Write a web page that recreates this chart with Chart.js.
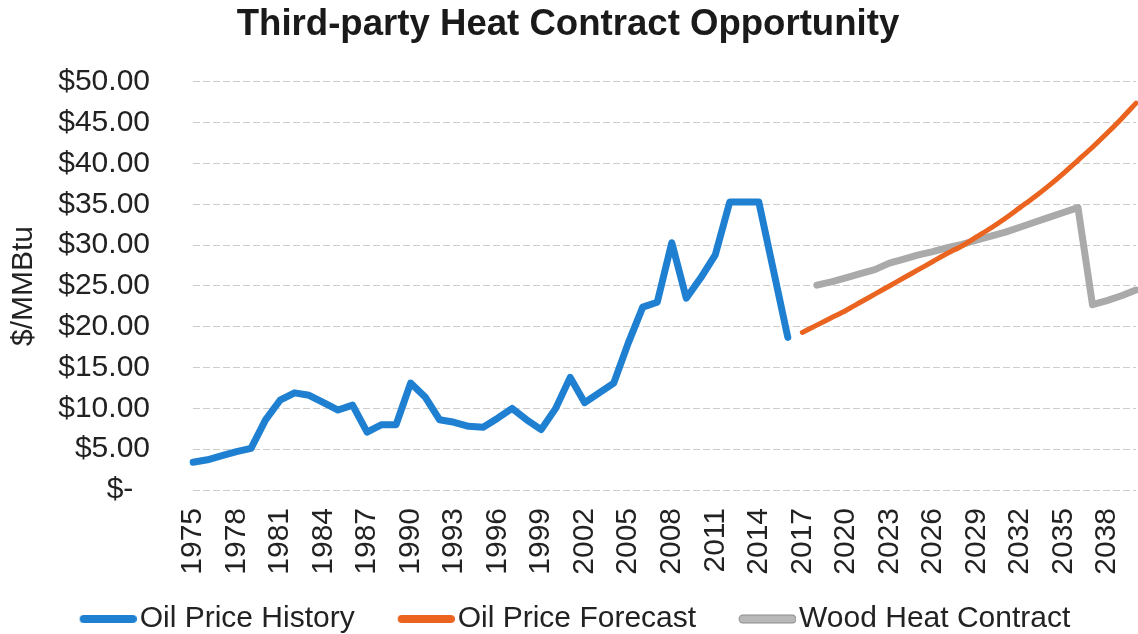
<!DOCTYPE html>
<html>
<head>
<meta charset="utf-8">
<script src="https://cdn.jsdelivr.net/npm/chart.js@4/dist/chart.umd.min.js"></script>
<style>
  html, body { margin: 0; padding: 0; background: #ffffff; }
  #wrap { width: 1138px; height: 634px; }
</style>
</head>
<body>
<div id="wrap"><canvas id="c" width="1138" height="634"></canvas></div>
<script>
const years = [
  '1975','1976','1977','1978','1979','1980','1981','1982','1983','1984',
  '1985','1986','1987','1988','1989','1990','1991','1992','1993','1994',
  '1995','1996','1997','1998','1999','2000','2001','2002','2003','2004',
  '2005','2006','2007','2008','2009','2010','2011','2012','2013','2014',
  '2015','2016','2017','2018','2019','2020','2021','2022','2023','2024',
  '2025','2026','2027','2028','2029','2030','2031','2032','2033','2034',
  '2035','2036','2037','2038','2039','2040'
];
const shownYearLabels = ['1975','1978','1981','1984','1987','1990','1993','1996','1999','2002',
  '2005','2008','2011','2014','2017','2020','2023','2026','2029','2032','2035','2038'];

// Oil Price History, 1975-2016 ($/MMBtu)
const oilHistory = [
  3.4, 3.7, 4.2, 4.7, 5.1, 8.6, 11.0, 11.9, 11.6, 10.7,
  9.8, 10.4, 7.1, 8.0, 8.0, 13.1, 11.4, 8.6, 8.3, 7.8,
  7.7, 8.8, 10.0, 8.6, 7.4, 10.0, 13.8, 10.7, 11.9, 13.1,
  18.0, 22.4, 23.0, 30.3, 23.5, 26.0, 28.8, 35.3, 35.3, 35.3,
  27.0, 18.7
];
// Oil Price Forecast, 2017-2040
const oilForecast = [
  19.3, 20.2, 21.1, 22.0, 23.0, 24.0, 25.0, 26.0, 27.0, 28.0,
  29.0, 29.9, 31.0, 32.1, 33.3, 34.6, 35.9, 37.3, 38.8, 40.4,
  42.0, 43.7, 45.5, 47.4
];
// Wood Heat Contract, 2018-2040
const woodContract = [
  25.1, 25.5, 26.0, 26.5, 27.0, 27.8, 28.3, 28.8, 29.2, 29.7,
  30.1, 30.6, 31.1, 31.6, 32.2, 32.8, 33.4, 34.0, 34.6, 22.7,
  23.2, 23.8, 24.5
];

function placeSeries(startYear, values) {
  const start = years.indexOf(startYear);
  return years.map((y, i) => (i >= start && i - start < values.length) ? values[i - start] : null);
}

// legend marker: a thick rounded line drawn in the right part of a small canvas
function legendMarker(color, edge) {
  const c = document.createElement('canvas');
  c.width = 83; c.height = 12;
  const g = c.getContext('2d');
  g.lineCap = 'round';
  if (edge) {
    g.strokeStyle = edge; g.lineWidth = 9;
    g.beginPath(); g.moveTo(30, 6); g.lineTo(79, 6); g.stroke();
  }
  g.strokeStyle = color; g.lineWidth = edge ? 7 : 8;
  g.beginPath(); g.moveTo(30, 6); g.lineTo(79, 6); g.stroke();
  return c;
}

const textColor = '#222222';
const FONT = 'Liberation Sans, Arial, sans-serif';
const colors = ['#1f80d2', '#ea6420', '#aaaaaa'];
const markers = [legendMarker(colors[0]), legendMarker(colors[1]), legendMarker('#b8b8b8', '#8c8c8c')];

new Chart(document.getElementById('c'), {
  type: 'line',
  data: {
    labels: years,
    datasets: [
      {
        label: 'Oil Price History',
        data: placeSeries('1975', oilHistory),
        borderColor: colors[0],
        backgroundColor: colors[0],
        borderWidth: 7,
        pointRadius: 0,
        tension: 0,
        borderCapStyle: 'round',
        borderJoinStyle: 'round',
        spanGaps: false
      },
      {
        label: 'Oil Price Forecast',
        data: placeSeries('2017', oilForecast),
        borderColor: colors[1],
        backgroundColor: colors[1],
        borderWidth: 5,
        pointRadius: 0,
        tension: 0.3,
        borderCapStyle: 'round',
        borderJoinStyle: 'round',
        spanGaps: false
      },
      {
        label: 'Wood Heat Contract',
        data: placeSeries('2018', woodContract),
        borderColor: colors[2],
        backgroundColor: colors[2],
        borderWidth: 7,
        pointRadius: 0,
        tension: 0,
        borderCapStyle: 'round',
        borderJoinStyle: 'round',
        spanGaps: false
      }
    ]
  },
  options: {
    responsive: false,
    animation: false,
    layout: { padding: { top: 0, left: 0, right: 2, bottom: -10 } },
    plugins: {
      title: {
        display: true,
        text: 'Third-party Heat Contract Opportunity',
        color: '#1a1a1a',
        font: { family: FONT, size: 36.6, weight: 'bold' },
        padding: { top: 3, bottom: 35 }
      },
      legend: {
        position: 'bottom',
        labels: {
          color: textColor,
          font: { family: FONT, size: 30 },
          usePointStyle: true,
          pointStyleWidth: 59,
          boxHeight: 8,
          padding: 29,
          generateLabels: (chart) =>
            Chart.defaults.plugins.legend.labels.generateLabels(chart).map(l => ({
              ...l, pointStyle: markers[l.datasetIndex], lineWidth: 0
            }))
        }
      },
      tooltip: { enabled: false }
    },
    scales: {
      x: {
        type: 'category',
        offset: false,
        grid: { display: false, drawTicks: false },
        border: { display: false },
        ticks: {
          autoSkip: false,
          minRotation: 90,
          maxRotation: 90,
          padding: 18,
          color: textColor,
          font: { family: FONT, size: 30 },
          callback: function (value, index) {
            const lab = years[index];
            return shownYearLabels.includes(lab) ? lab : '';
          }
        },
        afterFit: (scale) => {
          scale.height = 85;
          scale.paddingLeft = 0;
          scale.paddingRight = 0;
          scale._computeLabelArea = () => undefined;
        }
      },
      y: {
        min: 0,
        max: 50,
        title: {
          display: true,
          text: '$/MMBtu',
          color: textColor,
          font: { family: FONT, size: 30 },
          padding: { top: 6, bottom: 0 }
        },
        grid: {
          color: 'rgba(0,0,0,0.2)',
          lineWidth: 1,
          drawTicks: false
        },
        border: { display: false, dash: [7, 3] },
        ticks: {
          stepSize: 5,
          padding: 43,
          color: textColor,
          font: { family: FONT, size: 30 },
          callback: (v) => v === 0 ? '$-  ' : '$' + Number(v).toFixed(2)
        },
        afterFit: (scale) => { scale.width = 193; }
      }
    }
  }
});
</script>
</body>
</html>
